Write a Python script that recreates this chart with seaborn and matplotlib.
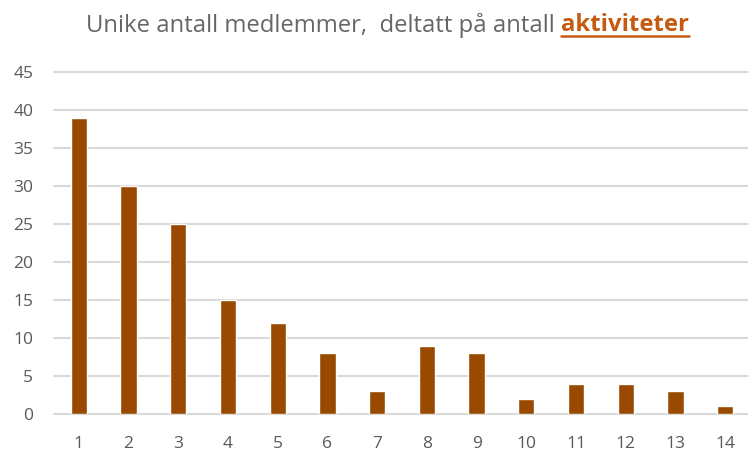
import pandas as pd
import matplotlib.pyplot as plt
import seaborn as sns

# antall aktiviteter -> unike medlemmer
aktiviteter = [str(i) for i in range(1, 15)]
medlemmer = [39, 30, 25, 15, 12, 8, 3, 9, 8, 2, 4, 4, 3, 1]
y_ticks = [0, 5, 10, 15, 20, 25, 30, 35, 40, 45]

df = pd.DataFrame({"aktiviteter": aktiviteter, "medlemmer": medlemmer})

sns.set_theme(style="white")
plt.rcParams['font.family'] = ['Open Sans', 'DejaVu Sans']

fig = plt.figure(figsize=(7.48, 4.54), dpi=100)
ax = fig.add_axes([54 / 748, 40 / 454, 696 / 748, 342 / 454])

sns.barplot(data=df, x="aktiviteter", y="medlemmer", color="#994A00",
            saturation=1, width=0.33, ax=ax, zorder=3)

ax.set_ylim(0, 45)
ax.set_xlim(-0.5, 13.5)
ax.set_yticks(y_ticks)
ax.yaxis.grid(True, color="#D9D9D9", linewidth=1.5, zorder=0)
for gl in ax.get_ygridlines():
    gl.set_clip_on(False)
ax.set_xlabel("")
ax.set_ylabel("")
for s in ax.spines.values():
    s.set_visible(False)
ax.tick_params(axis="both", length=0, labelsize=12.5, colors="#595959")
ax.tick_params(axis="x", pad=16)
ax.tick_params(axis="y", pad=15)

# title in two parts, last word bold + underlined
t1 = fig.text(86 / 748, 1 - 25 / 454, "Unike antall medlemmer,  deltatt på antall ",
              fontsize=17.2, color="#666666", va="center", ha="left")
fig.canvas.draw()
r = fig.canvas.get_renderer()
bb = t1.get_window_extent(r)
t2 = fig.text(bb.x1 / 748, 1 - 25 / 454, "aktiviteter", fontsize=17.2,
              fontweight="bold", color="#C55A11", va="center", ha="left")
bb2 = t2.get_window_extent(r)
uy = (bb2.y0 + 1) / 454
fig.add_artist(plt.Line2D([bb2.x0 / 748, bb2.x1 / 748], [uy, uy],
                          transform=fig.transFigure, color="#C55A11", linewidth=1.8))

fig.savefig("out.png", dpi=100)
